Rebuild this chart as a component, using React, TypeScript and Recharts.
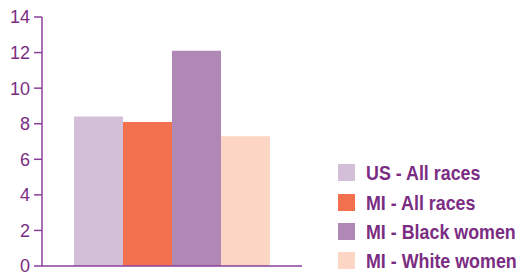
import React from 'react';
import { BarChart, Bar, XAxis, YAxis, Legend } from 'recharts';

const seriesNames = ['US - All races', 'MI - All races', 'MI - Black women', 'MI - White women'];
const seriesValues = [8.4, 8.1, 12.1, 7.3];
const seriesColors = ['#d4bfd9', '#f2704d', '#b088b5', '#fdd5c4'];
const yTicks = [0, 2, 4, 6, 8, 10, 12, 14];

const row: Record<string, number | string> = { name: 'rate' };
seriesNames.forEach((n, i) => {
  row[`s${i}`] = seriesValues[i];
});
const data = [row];

const PURPLE = '#7b2d83';
const AXIS = '#8b3f98';

// legend drawn in series order, narrow bold text like the original
const renderLegend = () => (
  <div>
    {seriesNames.map((n, i) => (
      <div key={`leg-${i}`} style={{ display: 'flex', alignItems: 'center', height: 29.4 }}>
        <span style={{ flex: '0 0 auto', width: 17, height: 17, background: seriesColors[i], display: 'inline-block', marginRight: 11 }} />
        <span
          style={{
            display: 'inline-block',
            transform: 'scaleX(0.85)',
            transformOrigin: 'left center',
            fontFamily: '"Liberation Sans", Arial, sans-serif',
            fontWeight: 700,
            fontSize: 21,
            color: PURPLE,
            whiteSpace: 'nowrap',
            lineHeight: 1,
          }}
        >
          {n}
        </span>
      </div>
    ))}
  </div>
);

const App: React.FC = () => {
  return (
    <div style={{ position: 'absolute', left: 0, top: 0, width: 520, height: 273, background: '#fff' }}>
      <BarChart
        width={520}
        height={273}
        data={data}
        margin={{ top: 17, right: 218, bottom: 6, left: 0 }}
        barCategoryGap={32}
        barGap={0}
      >
        <XAxis dataKey="name" tick={false} height={1} axisLine={{ stroke: AXIS, strokeWidth: 1.5 }} tickLine={false} />
        <YAxis
          domain={[0, 14]}
          ticks={yTicks}
          width={42}
          tickSize={8}
          tickMargin={4}
          axisLine={{ stroke: AXIS, strokeWidth: 1.5 }}
          tickLine={{ stroke: AXIS, strokeWidth: 1.5 }}
          tick={{ fill: PURPLE, fontSize: 18, fontFamily: '"Liberation Sans", Arial, sans-serif' }}
          interval={0}
        />
        <Legend
          layout="vertical"
          align="center"
          verticalAlign="middle"
          content={renderLegend}
          wrapperStyle={{ left: 338, top: 158, width: 182, height: 118 }}
        />
        {seriesNames.map((n, i) => (
          <Bar key={n} dataKey={`s${i}`} name={n} fill={seriesColors[i]} isAnimationActive={false} />
        ))}
      </BarChart>
    </div>
  );
};

export default App;
